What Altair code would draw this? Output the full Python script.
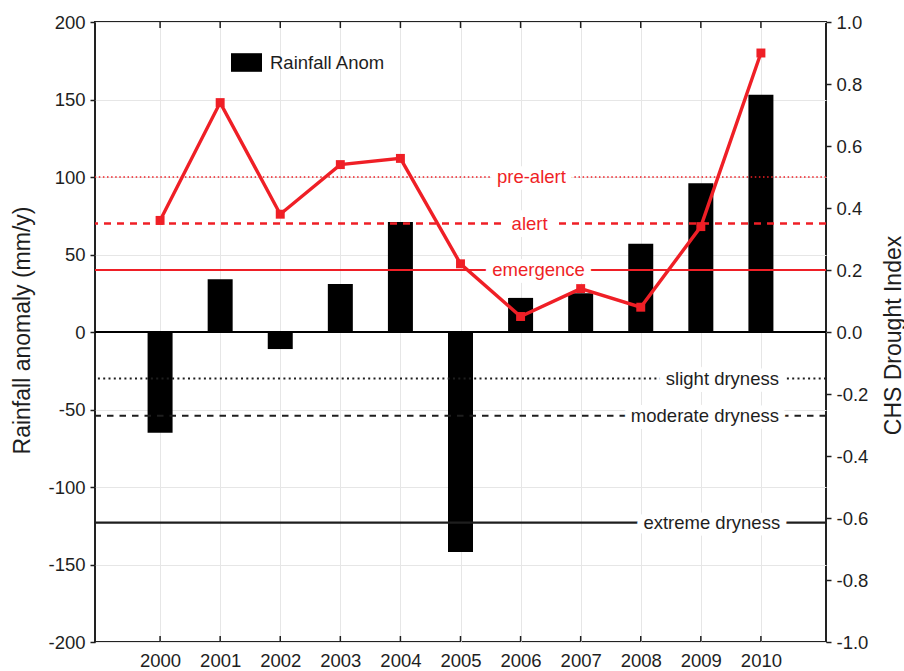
import altair as alt
import pandas as pd

# ---- data -----------------------------------------------------------------
years = [2000, 2001, 2002, 2003, 2004, 2005, 2006, 2007, 2008, 2009, 2010]
rainfall_anom = [-65, 34, -11, 31, 71, -142, 22, 25, 57, 96, 153]          # mm/y
chs_index = [0.36, 0.74, 0.38, 0.54, 0.56, 0.22, 0.05, 0.14, 0.08, 0.34, 0.90]

threshold_names = ["pre-alert", "alert", "emergence",
                   "slight dryness", "moderate dryness", "extreme dryness"]
threshold_values = [0.5, 0.35, 0.2, -0.15, -0.27, -0.615]                   # CHS index

left_ticks = [-200, -150, -100, -50, 0, 50, 100, 150, 200]
right_ticks = [-1.0, -0.8, -0.6, -0.4, -0.2, 0.0, 0.2, 0.4, 0.6, 0.8, 1.0]

# ---- styles ---------------------------------------------------------------
FONT = "Liberation Sans"
RED = "#ef1f26"
INK = "#1e1e1e"
W, H = 731, 620

line_styles = {
    "pre-alert":        dict(color=RED, width=1.3, dash=[1.5, 2.6], lx=2006.18, align="center"),
    "alert":            dict(color=RED, width=2.4, dash=[7, 6], lx=2006.15, align="center"),
    "emergence":        dict(color=RED, width=2.2, dash=None, lx=2006.3, align="center"),
    "slight dryness":   dict(color=INK, width=2.2, dash=[2, 3.3], lx=2010.3, align="right"),
    "moderate dryness": dict(color=INK, width=2.0, dash=[6.5, 6], lx=2010.3, align="right"),
    "extreme dryness":  dict(color=INK, width=2.2, dash=None, lx=2010.32, align="right"),
}

x_scale = alt.Scale(domain=[1999, 2011], nice=False, zero=False)
rain_scale = alt.Scale(domain=[-200, 200], nice=False)
chs_scale = alt.Scale(domain=[-1, 1], nice=False)

neg_int = "datum.value < 0 ? '-' + format(-datum.value, 'd') : format(datum.value, 'd')"
neg_dec = "datum.value < 0 ? '-' + format(-datum.value, '.1f') : format(datum.value, '.1f')"

# one axis definition per scale, reused by every layer that shares the scale
x_axis = alt.Axis(values=years, format="d", grid=True, ticks=False, labelPadding=9,
                  title=None, domain=False, labelFlush=False, labelOverlap=False)
left_axis = alt.Axis(values=left_ticks, grid=True, tickSize=5, labelPadding=5,
                     labelExpr=neg_int, domain=False,
                     title="Rainfall anomaly (mm/y)", titleX=-73, titleY=308,
                     titleAngle=270, titleBaseline="middle", titleAlign="center")
right_axis = alt.Axis(orient="right", values=right_ticks, grid=False, tickSize=5,
                      labelPadding=5, labelExpr=neg_dec, domain=False,
                      title="CHS Drought Index", titleX=67, titleY=313,
                      titleAngle=270, titleBaseline="middle", titleAlign="center")


def X(field):
    return alt.X(field, scale=x_scale, axis=x_axis)


def Y_rain(field):
    return alt.Y(field, scale=rain_scale, axis=left_axis)


def Y_chs(field):
    return alt.Y(field, scale=chs_scale, axis=right_axis)


df = pd.DataFrame({
    "year": years,
    "rain": rainfall_anom,
    "chs": chs_index,
    "series": ["Rainfall Anom"] * len(years),
})
base = alt.Chart(df)

# ---- left scale: rainfall anomaly bars -----------------------------------
bars = base.mark_bar(size=25, orient="vertical").encode(
    x=X("year:Q"),
    y=Y_rain("rain:Q"),
    y2=alt.datum(0),
    color=alt.Color("series:N",
                    scale=alt.Scale(domain=["Rainfall Anom"], range=["black"]),
                    legend=alt.Legend(title=None, orient="none", legendX=136, legendY=25,
                                      padding=0, symbolType="M-1,-0.6H1V0.6H-1Z",
                                      symbolSize=961, symbolStrokeWidth=0,
                                      labelFont=FONT, labelFontSize=18.5,
                                      labelColor=INK, labelOffset=8)),
)

zero_line = alt.Chart(pd.DataFrame({"v": [0]})).mark_rule(
    color="black", strokeWidth=2
).encode(y=Y_rain("v:Q"))

top_ticks = base.mark_rule(color=INK, strokeWidth=1.5).encode(
    x=X("year:Q"), y=alt.value(0), y2=alt.value(6))
bottom_ticks = base.mark_rule(color=INK, strokeWidth=1.5).encode(
    x=X("year:Q"), y=alt.value(H), y2=alt.value(H - 6))

left = alt.layer(bars, zero_line, top_ticks, bottom_ticks)

# ---- right scale: CHS drought index --------------------------------------
rules, halos, labels = [], [], []
for name, value in zip(threshold_names, threshold_values):
    st = line_styles[name]
    tdf = pd.DataFrame({"name": [name], "chs": [value], "lx": [st["lx"]]})
    rule_kw = dict(color=st["color"], strokeWidth=st["width"])
    if st["dash"]:
        rule_kw["strokeDash"] = st["dash"]
    rules.append(alt.Chart(tdf).mark_rule(**rule_kw).encode(y=Y_chs("chs:Q")))
    enc = dict(x=X("lx:Q"), y=Y_chs("chs:Q"), text="name:N")
    halos.append(alt.Chart(tdf).mark_text(
        align=st["align"], baseline="middle", font=FONT, fontSize=18.5,
        fill="white", stroke="white", strokeWidth=14, strokeJoin="round"
    ).encode(**enc))
    labels.append(alt.Chart(tdf).mark_text(
        align=st["align"], baseline="middle", font=FONT, fontSize=18.5,
        color=st["color"]
    ).encode(**enc))

chs_line = base.mark_line(color=RED, strokeWidth=3.4).encode(
    x=X("year:Q"), y=Y_chs("chs:Q"))
chs_pts = base.mark_point(shape="square", filled=True, size=80, color=RED, opacity=1).encode(
    x=X("year:Q"), y=Y_chs("chs:Q"))

right = alt.layer(*rules, *halos, *labels, chs_line, chs_pts)

chart = alt.layer(left, right).resolve_scale(y="independent").properties(
    width=W, height=H,
    autosize=alt.AutoSizeParams(type="none"),
    padding={"left": 95, "top": 22, "right": 78, "bottom": 29},
    background="white",
).configure_view(
    stroke="#222", strokeWidth=2
).configure_axis(
    labelFont=FONT, titleFont=FONT, labelFontSize=18.5, titleFontSize=23,
    labelColor=INK, titleColor=INK, titleFontWeight="normal",
    gridColor="#e6e6e6", gridWidth=1, tickColor=INK, tickWidth=1.5,
)

chart.save("out.html", embed_options={"renderer": "svg", "actions": False})
